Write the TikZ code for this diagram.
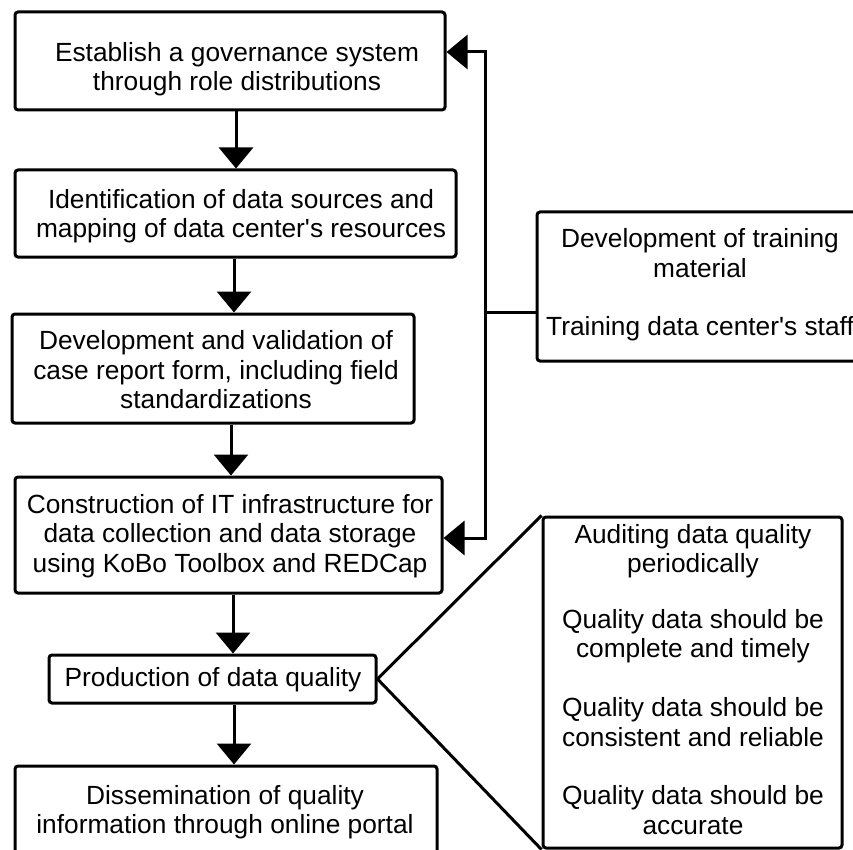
\documentclass[tikz,border=0pt]{standalone}
\usepackage{fontspec}
\setmainfont{Liberation Sans}
\usetikzlibrary{arrows.meta}
\begin{document}
\begin{tikzpicture}[x=1pt,y=-1pt,
  box/.style={draw, line width=3pt, rounded corners=3pt, inner sep=0pt},
  txt/.style={align=center, inner sep=0pt, font=\fontsize{26.3}{29.5}\selectfont},
  arr/.style={line width=3pt, -{Triangle[width=34pt,length=21pt]}},
  ln/.style={line width=3pt}]
\useasboundingbox (0,0) rectangle (853,850);
\clip (0,0) rectangle (853,850);
\fill[white] (0,0) rectangle (853,850);
% boxes
\node[box, minimum width=430pt, minimum height=98pt] (b1) at (230,61) {};
\node[box, minimum width=441pt, minimum height=87pt] (b2) at (235.5,213.5) {};
\node[box, minimum width=402pt, minimum height=109pt] (b3) at (213,368.5) {};
\node[box, minimum width=427pt, minimum height=116pt] (b4) at (228.5,535) {};
\node[box, minimum width=327pt, minimum height=48pt] (pr) at (212.5,679) {};
\node[box, minimum width=422pt, minimum height=128pt] (ds) at (226,830) {};
\node[box, minimum width=333pt, minimum height=149pt] (tr) at (703.5,286.5) {};
\node[box, minimum width=299pt, minimum height=331pt] (q) at (692.5,682.5) {};
% texts
\node[txt] (t1) at (237,69) {Establish a governance system\\through role distributions};
\node[txt] (t2) at (241,216) {Identification of data sources and\\mapping of data center\textquotesingle s resources};
\node[txt] (t3) at (216,370) {Development and validation of\\case report form, including field\\standardizations};
\node[txt] (t4) at (230,536) {Construction of IT infrastructure for\\data collection and data storage\\using KoBo Toolbox and REDCap};
\node[txt] (tp) at (213,680) {Production of data quality};
\node[txt] (td) at (225,812) {Dissemination of quality\\information through online portal};
\node[txt] (tr1) at (700,253) {Development of training\\material};
\node[txt] (tr2) at (700,329) {Training data center\textquotesingle s staff};
\node[txt] (q1) at (693,551) {Auditing data quality\\periodically};
\node[txt] (q2) at (693,636) {Quality data should be\\complete and timely};
\node[txt] (q3) at (693,722) {Quality data should be\\consistent and reliable};
\node[txt] (q4) at (693,810) {Quality data should be\\accurate};
% arrow columns
\coordinate (a1) at (236,0);
\coordinate (a2) at (234,0);
\coordinate (a3) at (231,0);
\coordinate (a4) at (233,0);
\coordinate (a5) at (234,0);
\draw[arr] (b1.south -| a1) -- (b2.north -| a1);
\draw[arr] (b2.south -| a2) -- (b3.north -| a2);
\draw[arr] (b3.south -| a3) -- (b4.north -| a3);
\draw[arr] (b4.south -| a4) -- (pr.north -| a4);
\draw[arr] (pr.south -| a5) -- (ds.north -| a5);
% feedback loop
\coordinate (top) at (485,52);
\coordinate (jn) at (485,312);
\coordinate (bot) at (485,538);
\draw[ln] (tr.west |- jn) -- (jn);
\draw[arr] (jn) -- (top) -- (b1.east |- top);
\draw[arr] (jn) -- (bot) -- (b4.east |- bot);
% quality fan
\draw[ln] (pr.east) -- (q.north west);
\draw[ln] (pr.east) -- (q.south west);
\end{tikzpicture}
\end{document}
